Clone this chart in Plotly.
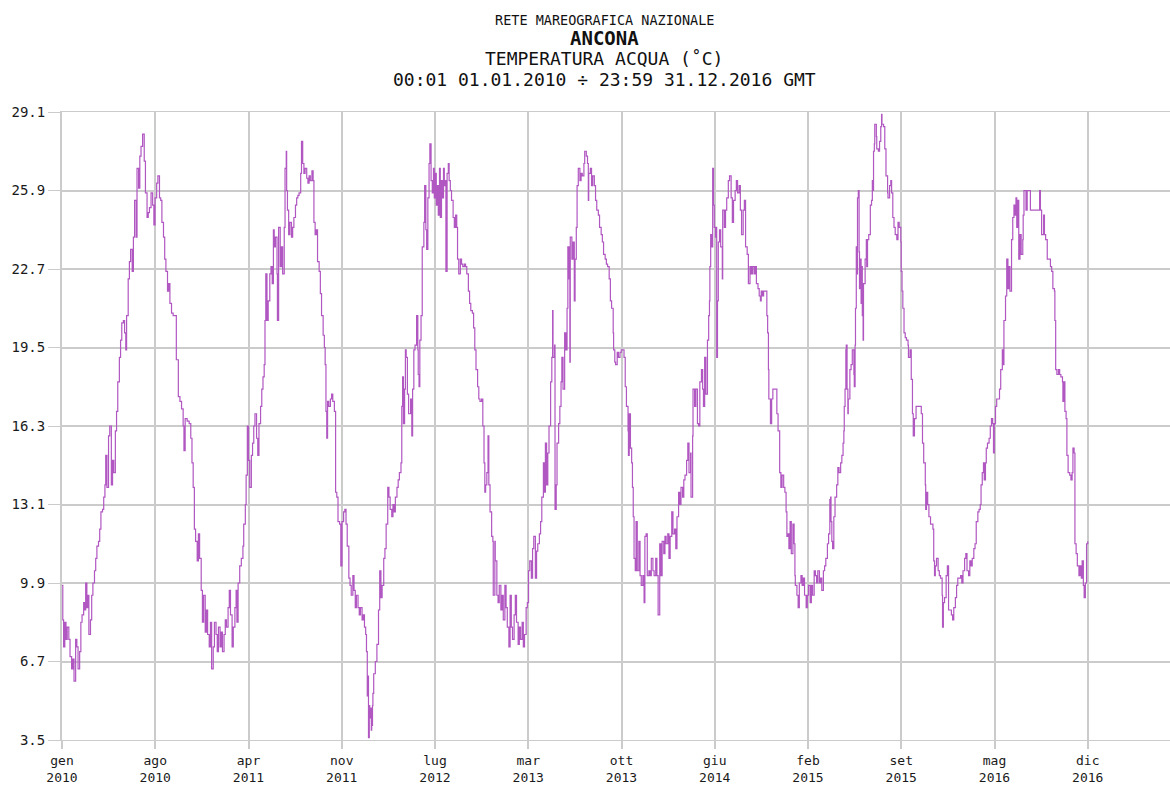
import pandas as pd
import plotly.graph_objects as go

# Sea-water temperature at Ancona, 2010-2016.
# Each pair: (days elapsed since 2010-01-01 00:00, temperature in °C)
temp_2010 = [
    (0, 9.8), (2, 8.4), (4, 7.3), (7, 8.3), (10, 7.6), (13, 8.1), (17, 7.6), (20, 6.9),
    (24, 6.4), (27, 6.8), (30, 5.9), (34, 7.6), (37, 7.3), (40, 6.4), (44, 7.1), (47, 8.3),
    (50, 8.6), (54, 9.1), (57, 8.8), (59, 9.9), (62, 8.9), (65, 9.4), (67, 7.8), (71, 8.4),
    (74, 9.4), (77, 9.9), (81, 10.4), (84, 10.9), (87, 11.4), (91, 11.6), (94, 12.1), (97, 12.8),
    (101, 12.9), (104, 13.4), (107, 13.9), (109, 15.1), (112, 13.8), (116, 15.9), (119, 16.3),
    (123, 13.9), (126, 14.9), (129, 14.4), (133, 16.1), (136, 16.9), (139, 18.1), (143, 19.1),
    (146, 19.8), (149, 20.5), (153, 20.6), (156, 20.1), (159, 19.4), (161, 20.8), (165, 22.3),
    (168, 23.0), (171, 23.5), (175, 22.6), (178, 24.0), (181, 25.5), (185, 24.0), (187, 26.8),
    (191, 26.0), (194, 27.3), (197, 27.7), (201, 28.2), (205, 27.1), (208, 25.8), (212, 24.8),
    (215, 25.0), (218, 25.2), (222, 25.8), (226, 25.3), (229, 24.5), (232, 25.6), (236, 26.2),
    (239, 26.5), (243, 25.6), (246, 25.5), (249, 24.6), (253, 24.0), (256, 23.1), (259, 22.6),
    (263, 21.8), (266, 22.1), (269, 21.3), (273, 20.9), (277, 20.8), (281, 20.8), (285, 19.0),
    (290, 17.5), (294, 17.3), (298, 17.0), (302, 16.3), (304, 15.3), (307, 16.6), (312, 16.5),
    (317, 16.4), (321, 15.8), (324, 14.8), (327, 13.8), (330, 12.1), (333, 11.6), (337, 10.8),
    (340, 11.9), (343, 10.9), (347, 9.6), (350, 8.3), (353, 9.4), (357, 7.9), (360, 8.8),
    (363, 7.8),
]

temp_2011 = [
    (367, 7.3), (370, 8.3), (373, 6.4), (377, 7.3), (380, 8.3), (384, 7.8), (387, 7.1),
    (390, 8.1), (394, 7.3), (397, 7.9), (400, 7.1), (404, 7.8), (407, 8.4), (410, 8.1),
    (414, 8.9), (417, 9.6), (420, 8.6), (424, 7.3), (427, 8.1), (431, 8.9), (434, 9.6),
    (436, 8.3), (439, 9.9), (443, 10.6), (447, 10.9), (451, 11.4), (453, 12.3), (457, 13.1),
    (459, 14.3), (462, 16.3), (465, 14.9), (468, 13.8), (472, 15.1), (475, 15.6), (478, 16.3),
    (481, 16.8), (485, 15.8), (488, 15.1), (491, 16.4), (495, 17.1), (498, 17.8), (501, 18.3),
    (504, 18.8), (506, 20.6), (508, 22.5), (511, 20.6), (514, 21.4), (518, 22.5), (521, 22.8),
    (524, 22.1), (527, 24.3), (529, 23.6), (532, 24.0), (536, 22.5), (537, 20.6), (540, 24.4),
    (544, 22.8), (547, 23.6), (550, 22.5), (554, 24.4), (556, 26.8), (559, 27.5), (560, 25.9),
    (562, 25.1), (565, 24.1), (568, 24.6), (572, 24.0), (575, 24.4), (578, 24.8), (582, 25.3),
    (585, 25.6), (588, 25.7), (591, 25.8), (595, 26.6), (597, 27.9), (600, 27.0), (603, 26.6),
    (606, 26.8), (610, 26.4), (613, 26.2), (616, 26.5), (619, 26.3), (623, 26.7), (626, 26.3),
    (628, 24.6), (631, 24.1), (634, 24.3), (637, 23.0), (641, 22.6), (644, 21.7), (647, 20.8),
    (651, 20.0), (654, 19.5), (656, 18.8), (658, 16.9), (660, 15.8), (662, 17.3), (665, 17.1),
    (669, 17.4), (672, 17.6), (675, 17.3), (679, 16.9), (682, 13.6), (685, 13.4), (688, 12.4),
    (692, 12.3), (695, 10.6), (698, 12.4), (702, 12.8), (705, 12.9), (708, 12.3), (711, 11.4),
    (715, 10.1), (718, 9.8), (721, 9.4), (725, 10.2), (728, 9.6),
]

temp_2012 = [
    (731, 8.9), (734, 9.4), (738, 8.9), (741, 8.6), (744, 8.9), (748, 8.4), (751, 8.6),
    (754, 8.1), (757, 7.8), (759, 7.1), (761, 5.3), (762, 6.1), (764, 3.6), (766, 4.9),
    (767, 4.4), (769, 4.8), (771, 3.9), (772, 4.1), (774, 4.9), (775, 5.4), (777, 6.2),
    (781, 6.7), (784, 6.7), (785, 7.4), (789, 8.8), (792, 10.4), (795, 9.3), (798, 9.8),
    (802, 10.9), (805, 11.3), (808, 12.3), (812, 13.8), (815, 13.4), (818, 12.9), (822, 12.6),
    (825, 13.1), (828, 12.8), (831, 13.4), (835, 13.8), (838, 14.1), (841, 14.4), (845, 14.8),
    (847, 17.1), (849, 18.3), (851, 16.4), (854, 17.8), (856, 19.4), (858, 19.1), (861, 17.6),
    (864, 16.8), (867, 16.8), (869, 17.4), (872, 15.9), (874, 17.8), (877, 19.4), (880, 19.6),
    (884, 20.8), (887, 19.4), (888, 18.4), (890, 17.9), (892, 19.8), (895, 20.8), (898, 23.6),
    (902, 24.6), (904, 26.1), (907, 24.3), (909, 23.5), (912, 25.6), (915, 27.0), (917, 27.8),
    (920, 26.3), (923, 25.8), (926, 26.8), (928, 25.6), (931, 26.6), (933, 25.3), (936, 26.1),
    (938, 24.9), (941, 26.8), (943, 24.8), (946, 26.3), (948, 25.6), (951, 26.8), (953, 26.1),
    (955, 26.3), (957, 22.6), (960, 26.6), (963, 27.0), (965, 26.3), (968, 25.9), (971, 25.5),
    (975, 24.8), (978, 24.4), (981, 24.9), (984, 24.4), (986, 23.1), (989, 22.5), (993, 23.1),
    (996, 22.9), (999, 22.8), (1003, 22.9), (1006, 22.8), (1009, 22.5), (1013, 21.8),
    (1016, 21.3), (1019, 21.0), (1023, 20.9), (1026, 20.3), (1029, 19.4), (1032, 18.6),
    (1036, 17.9), (1039, 17.4), (1042, 17.3), (1046, 17.4), (1049, 16.3), (1052, 14.8),
    (1054, 13.6), (1056, 13.9), (1059, 14.4), (1062, 15.9), (1064, 13.9), (1067, 12.8),
    (1071, 11.8), (1074, 11.6), (1075, 9.4), (1079, 11.6), (1080, 10.8), (1084, 9.4),
    (1087, 9.1), (1090, 9.8), (1094, 8.8),
]

temp_2013 = [
    (1097, 9.4), (1100, 8.4), (1104, 9.8), (1107, 8.9), (1110, 8.1), (1114, 7.3), (1117, 9.4),
    (1120, 8.1), (1123, 7.6), (1127, 8.6), (1130, 9.4), (1133, 8.3), (1137, 7.4), (1140, 8.1),
    (1143, 7.6), (1147, 8.3), (1150, 7.3), (1153, 7.8), (1157, 8.9), (1160, 9.1), (1163, 10.4),
    (1166, 10.8), (1170, 10.1), (1173, 11.3), (1176, 11.8), (1180, 10.1), (1183, 11.2),
    (1186, 11.5), (1190, 11.9), (1193, 12.4), (1196, 13.4), (1200, 14.8), (1203, 13.6),
    (1205, 15.6), (1208, 13.9), (1211, 15.2), (1214, 16.3), (1218, 18.1), (1221, 19.1),
    (1223, 21.0), (1224, 19.1), (1228, 19.6), (1229, 12.9), (1232, 13.9), (1234, 15.6),
    (1238, 16.4), (1241, 17.1), (1244, 18.1), (1246, 19.1), (1249, 17.8), (1253, 20.1),
    (1256, 19.4), (1259, 21.1), (1261, 23.6), (1264, 22.3), (1266, 18.9), (1267, 24.0),
    (1271, 23.1), (1274, 23.8), (1277, 21.4), (1279, 23.1), (1282, 24.4), (1284, 26.1),
    (1287, 26.8), (1291, 26.3), (1294, 26.6), (1297, 26.5), (1301, 27.0), (1303, 27.5),
    (1307, 27.3), (1310, 27.0), (1312, 25.5), (1313, 26.6), (1317, 26.8), (1320, 26.1),
    (1323, 26.5), (1327, 26.1), (1330, 25.5), (1333, 25.1), (1337, 24.9), (1340, 24.4),
    (1344, 24.1), (1347, 23.8), (1350, 23.3), (1354, 23.1), (1357, 22.9), (1360, 22.8),
    (1364, 22.3), (1367, 21.4), (1370, 21.1), (1374, 20.1), (1375, 19.4), (1378, 18.9),
    (1380, 18.8), (1384, 19.3), (1387, 19.1), (1391, 19.3), (1394, 19.4), (1397, 19.4),
    (1401, 19.1), (1404, 17.9), (1407, 17.1), (1411, 16.1), (1412, 15.1), (1414, 16.8),
    (1417, 15.4), (1420, 14.8), (1422, 13.8), (1424, 12.6), (1426, 10.9), (1429, 10.4),
    (1431, 12.4), (1434, 10.4), (1438, 11.6), (1441, 10.2), (1444, 9.8), (1448, 10.2),
    (1451, 9.1), (1453, 11.8), (1456, 11.9), (1459, 10.2),
]

temp_2014 = [
    (1463, 10.4), (1466, 10.2), (1469, 10.9), (1473, 10.4), (1476, 10.2), (1480, 10.9),
    (1483, 10.2), (1486, 8.6), (1490, 11.5), (1493, 10.2), (1496, 11.6), (1500, 11.1),
    (1503, 11.8), (1506, 11.5), (1510, 11.9), (1513, 10.9), (1516, 11.8), (1520, 12.8),
    (1523, 11.9), (1527, 12.1), (1530, 11.3), (1533, 12.6), (1537, 13.6), (1540, 13.1),
    (1543, 13.8), (1547, 13.4), (1550, 14.1), (1553, 14.3), (1557, 14.9), (1560, 15.6),
    (1563, 14.4), (1567, 15.2), (1568, 13.4), (1572, 15.9), (1573, 17.8), (1577, 17.1),
    (1580, 17.8), (1584, 16.4), (1587, 16.3), (1590, 18.1), (1594, 18.6), (1597, 17.8),
    (1599, 17.1), (1602, 19.1), (1605, 17.6), (1609, 19.8), (1612, 20.8), (1614, 21.4),
    (1615, 22.8), (1617, 24.1), (1620, 23.6), (1622, 26.8), (1624, 25.3), (1626, 24.4),
    (1629, 24.0), (1631, 24.4), (1632, 19.1), (1634, 21.4), (1636, 23.8), (1639, 24.3),
    (1642, 23.6), (1646, 22.3), (1647, 25.1), (1651, 24.4), (1654, 25.1), (1657, 25.6),
    (1661, 26.3), (1664, 26.5), (1668, 25.6), (1671, 24.6), (1674, 25.5), (1678, 25.9),
    (1681, 26.3), (1684, 25.8), (1688, 26.1), (1691, 25.1), (1694, 24.1), (1698, 25.1),
    (1701, 25.5), (1704, 23.6), (1708, 23.3), (1711, 22.1), (1715, 22.8), (1718, 22.5),
    (1721, 22.8), (1725, 22.5), (1728, 22.8), (1731, 22.1), (1735, 21.9), (1738, 21.6),
    (1741, 21.4), (1743, 21.8), (1746, 21.6), (1749, 21.8), (1752, 21.8), (1756, 21.8),
    (1757, 20.8), (1759, 20.1), (1761, 18.6), (1762, 17.4), (1766, 16.4), (1769, 17.4),
    (1772, 17.8), (1776, 17.8), (1779, 17.8), (1782, 16.8), (1785, 16.1), (1789, 14.4),
    (1792, 13.8), (1795, 14.3), (1799, 13.8), (1802, 13.6), (1805, 12.8), (1807, 11.8),
    (1809, 11.9), (1812, 11.3), (1815, 12.4), (1818, 11.1), (1822, 12.3), (1825, 11.5),
]

temp_2015 = [
    (1827, 10.2), (1828, 9.8), (1832, 9.4), (1835, 8.9), (1838, 9.9), (1842, 10.2),
    (1845, 9.8), (1848, 10.1), (1851, 9.4), (1855, 8.9), (1858, 9.4), (1861, 9.8),
    (1865, 9.1), (1868, 9.8), (1871, 9.4), (1875, 10.4), (1878, 10.2), (1881, 9.9),
    (1884, 10.4), (1888, 9.9), (1891, 10.1), (1894, 9.6), (1898, 10.4), (1901, 10.6),
    (1904, 10.9), (1908, 11.5), (1911, 11.9), (1914, 13.3), (1916, 13.4), (1917, 12.4),
    (1919, 11.6), (1921, 11.3), (1924, 12.6), (1927, 13.4), (1931, 13.9), (1934, 14.6),
    (1937, 14.4), (1941, 14.8), (1944, 15.1), (1947, 15.6), (1949, 16.1), (1950, 17.1),
    (1952, 17.8), (1954, 19.4), (1955, 19.6), (1957, 17.8), (1959, 16.8), (1960, 17.4),
    (1964, 18.6), (1967, 18.8), (1970, 19.4), (1974, 18.4), (1975, 17.9), (1977, 19.6),
    (1978, 21.1), (1980, 23.6), (1982, 22.5), (1983, 25.6), (1985, 25.9), (1987, 23.4),
    (1988, 21.9), (1990, 23.1), (1992, 21.3), (1993, 22.8), (1995, 20.8), (1997, 19.8),
    (1998, 22.1), (2002, 23.1), (2005, 23.9), (2006, 22.8), (2008, 23.9), (2011, 24.1),
    (2015, 25.3), (2018, 25.5), (2020, 26.3), (2021, 25.9), (2023, 27.5), (2025, 27.8),
    (2026, 28.6), (2030, 28.1), (2031, 27.6), (2035, 27.5), (2038, 27.9), (2041, 28.5),
    (2043, 29.0), (2044, 28.6), (2048, 28.5), (2051, 27.6), (2054, 26.5), (2058, 25.8),
    (2059, 25.6), (2063, 26.1), (2066, 26.3), (2068, 25.8), (2071, 24.8), (2074, 24.4),
    (2077, 24.1), (2081, 23.9), (2084, 24.6), (2087, 24.4), (2091, 23.8), (2092, 22.6),
    (2094, 21.8), (2096, 21.1), (2099, 20.1), (2102, 19.9), (2105, 19.8), (2109, 19.6),
    (2110, 19.1), (2114, 19.4), (2117, 18.2), (2120, 16.8), (2122, 15.9), (2125, 16.6),
    (2129, 17.1), (2132, 17.1), (2135, 17.1), (2138, 17.1), (2142, 16.8), (2145, 15.6),
    (2148, 14.8), (2152, 13.9), (2153, 12.9), (2155, 13.6), (2158, 13.1), (2161, 12.6),
    (2165, 12.3), (2168, 12.3), (2171, 12.1), (2173, 10.8), (2175, 10.2), (2177, 10.6),
    (2180, 10.9), (2184, 10.4), (2187, 10.2), (2190, 10.1),
]

temp_2016 = [
    (2194, 9.4), (2195, 8.1), (2197, 9.1), (2200, 9.3), (2204, 10.2), (2207, 10.6),
    (2210, 8.8), (2213, 8.8), (2217, 8.6), (2220, 8.4), (2223, 8.9), (2227, 9.3),
    (2230, 9.8), (2233, 10.1), (2236, 10.1), (2240, 10.2), (2243, 9.9), (2246, 10.4),
    (2250, 10.9), (2253, 11.1), (2256, 10.4), (2260, 10.2), (2263, 10.8), (2266, 10.6),
    (2269, 10.9), (2273, 11.3), (2276, 11.5), (2279, 12.4), (2283, 12.8), (2286, 12.9),
    (2289, 13.1), (2291, 13.9), (2294, 14.4), (2297, 14.8), (2299, 14.1), (2302, 14.8),
    (2304, 15.4), (2307, 15.6), (2311, 15.8), (2314, 16.3), (2317, 16.6), (2320, 16.4),
    (2322, 15.2), (2324, 16.4), (2327, 17.1), (2330, 17.4), (2334, 17.4), (2337, 17.8),
    (2340, 18.6), (2344, 19.4), (2345, 18.8), (2348, 20.6), (2352, 21.6), (2355, 23.1),
    (2358, 21.9), (2360, 22.8), (2363, 21.8), (2367, 23.9), (2370, 24.8), (2373, 25.3),
    (2376, 24.9), (2378, 25.6), (2380, 24.4), (2383, 25.5), (2385, 23.1), (2388, 24.1),
    (2391, 23.3), (2395, 23.9), (2396, 24.9), (2398, 25.9), (2401, 25.9), (2403, 25.1),
    (2406, 25.9), (2411, 25.9), (2414, 25.1), (2423, 25.1), (2431, 25.1), (2437, 25.9),
    (2439, 25.1), (2442, 24.1), (2447, 24.9), (2449, 24.1), (2452, 23.9), (2456, 23.1),
    (2461, 23.1), (2464, 22.8), (2467, 22.6), (2470, 21.9), (2474, 21.8), (2475, 20.6),
    (2477, 18.6), (2480, 18.4), (2484, 18.6), (2487, 18.4), (2490, 18.3), (2494, 18.1),
    (2495, 17.3), (2497, 18.1), (2500, 16.9), (2503, 16.6), (2505, 15.1), (2508, 14.4),
    (2512, 14.3), (2515, 14.1), (2518, 14.4), (2520, 15.4), (2523, 15.2), (2525, 11.5),
    (2528, 11.1), (2531, 10.6), (2535, 10.2), (2538, 10.6), (2541, 10.1), (2543, 10.8),
    (2546, 9.8), (2548, 9.3), (2551, 9.9), (2554, 11.5), (2557, 11.6),
]

# y-axis: 3.5 .. 29.1 in 3.2 °C steps
y_ticks = [3.5, 6.7, 9.9, 13.1, 16.3, 19.5, 22.7, 25.9, 29.1]

# x-axis: 12 evenly spaced labels across the recorded period
tick_months = ["gen", "ago", "apr", "nov", "lug", "mar", "ott", "giu", "feb", "set", "mag", "dic"]
tick_years = ["2010", "2010", "2011", "2011", "2012", "2013", "2013", "2014", "2015", "2015", "2016", "2016"]

title_lines = [
    "RETE MAREOGRAFICA NAZIONALE",
    "ANCONA",
    "TEMPERATURA ACQUA (˚C)",
    "00:01 01.01.2010 ÷ 23:59 31.12.2016 GMT",
]

start = pd.Timestamp("2010-01-01")
period_days = (pd.Timestamp("2017-01-01") - start).days

series = temp_2010 + temp_2011 + temp_2012 + temp_2013 + temp_2014 + temp_2015 + temp_2016
times = start + pd.to_timedelta([d for d, _ in series], unit="D")
values = [v for _, v in series]

tick_times = [start + pd.Timedelta(days=period_days * i / (len(tick_months) - 1))
              for i in range(len(tick_months))]
tick_text = [f"{m}<br>{y}" for m, y in zip(tick_months, tick_years)]

W, H = 1170, 785
M_L, M_R, M_T, M_B = 62, 0, 112, 41
plot_w = W - M_L - M_R
plot_h = H - M_T - M_B

GRID = "#cbcbcb"
MONO = "DejaVu Sans Mono, Liberation Mono, monospace"

fig = go.Figure()
fig.add_trace(go.Scatter(
    x=times, y=values, mode="lines", line_shape="hv",
    line=dict(color="#b157c2", width=1.2),
    hoverinfo="skip", showlegend=False,
))

fig.update_layout(
    width=W, height=H,
    margin=dict(l=M_L, r=M_R, t=M_T, b=M_B, pad=0),
    paper_bgcolor="white", plot_bgcolor="white",
    font=dict(family=MONO, size=13, color="#1a1a1a"),
    xaxis=dict(
        type="date",
        range=[start, start + pd.Timedelta(days=2762)],
        tickmode="array", tickvals=tick_times, ticktext=tick_text,
        showgrid=True, gridcolor=GRID, gridwidth=2,
        ticks="outside", ticklen=8, tickcolor=GRID, tickwidth=2,
        showline=True, linecolor=GRID, linewidth=1, mirror=True,
        zeroline=False, tickfont=dict(family=MONO, size=13, color="#1a1a1a"),
    ),
    yaxis=dict(
        range=[3.5, 29.1],
        tickmode="array", tickvals=y_ticks, ticktext=[f"{v:.1f}" for v in y_ticks],
        showgrid=True, gridcolor=GRID, gridwidth=1.5,
        ticks="outside", ticklen=12, tickcolor=GRID, tickwidth=1,
        showline=True, linecolor=GRID, linewidth=2,
        zeroline=False, tickfont=dict(family=MONO, size=14, color="#1a1a1a"),
    ),
)

# four-line heading centred above the plot
title_x = (604 - M_L) / plot_w
title_rows = [(19, 13.5, False), (38, 19, True), (58, 18, False), (79, 18, False)]
for text, (ypix, size, bold) in zip(title_lines, title_rows):
    fig.add_annotation(
        text=f"<b>{text}</b>" if bold else text,
        xref="paper", yref="paper",
        x=title_x, y=(H - M_B - ypix) / plot_h,
        xanchor="center", yanchor="middle", showarrow=False,
        font=dict(family=MONO, size=size, color="#111"),
    )

fig.write_html("out.html")
